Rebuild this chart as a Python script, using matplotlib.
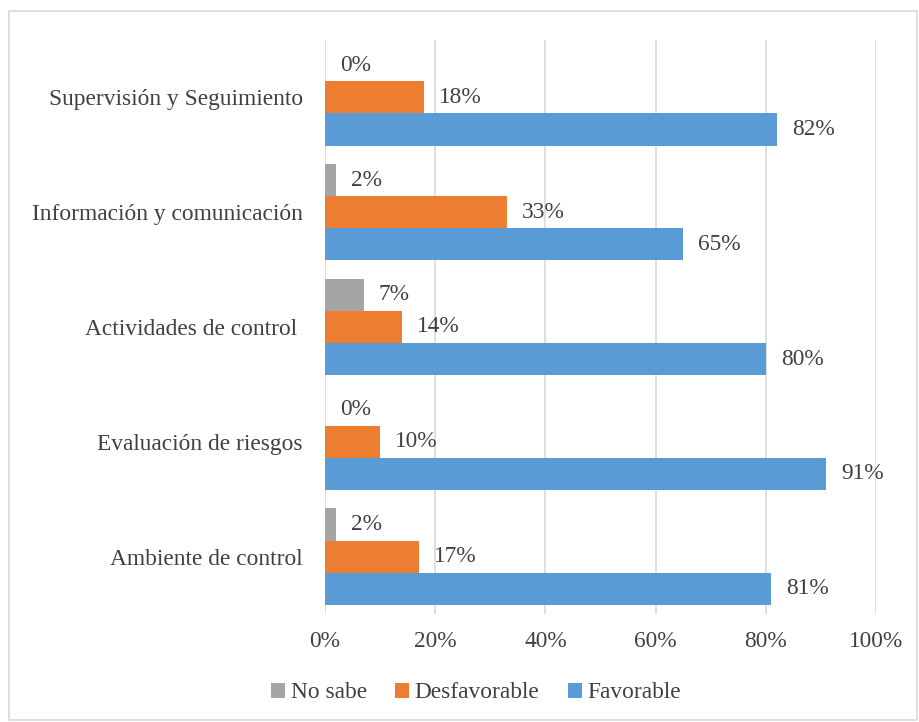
import matplotlib
matplotlib.use("Agg")
import matplotlib.pyplot as plt
import numpy as np

plt.rcParams['font.family'] = ['Liberation Serif', 'DejaVu Serif']

categorias = ["Ambiente de control", "Evaluación de riesgos", "Actividades de control ",
              "Información y comunicación", "Supervisión y Seguimiento"]
favorable = [81, 91, 80, 65, 82]
desfavorable = [17, 10, 14, 33, 18]
no_sabe = [2, 0, 7, 2, 0]

col_fav = '#5b9bd5'
col_des = '#ed7d31'
col_ns = '#a5a5a5'
txt = '#404040'
fs = 16.8

fig = plt.figure(figsize=(9.2, 7.22), dpi=100)
ax = fig.add_axes([325/920, 1-614/722, 551/920, 574/722])

# borde del grafico
fig.patches.append(plt.Rectangle((9/920, 2/722), 908/920, 709/722, transform=fig.transFigure,
                                 fill=False, edgecolor='#d9d9d9', linewidth=1.2))

y = np.arange(len(categorias))
h = 0.28
series = [(favorable, col_fav, 'Favorable', -h), (desfavorable, col_des, 'Desfavorable', 0),
          (no_sabe, col_ns, 'No sabe', h)]
for vals, col, lab, off in series:
    bars = ax.barh(y + off, vals, height=h, color=col, label=lab, zorder=3)
    for b, v in zip(bars, vals):
        ax.annotate(f"{v}%", (b.get_width(), b.get_y() + h/2), xytext=(11, 0),
                    textcoords='offset points', va='center', ha='left',
                    fontsize=fs, color=txt)

ax.set_xlim(0, 100)
ax.set_ylim(-0.5, 4.5)
ax.set_xticks(np.arange(0, 101, 20))
ax.set_xticklabels([f"{t}%" for t in range(0, 101, 20)])
ax.set_yticks(y)
ax.set_yticklabels(categorias)
ax.tick_params(axis='both', length=0, labelsize=fs, labelcolor=txt)
ax.tick_params(axis='x', pad=12)
ax.tick_params(axis='y', pad=16)
ax.grid(axis='x', color='#d9d9d9', linewidth=1.2, zorder=0)
for s in ax.spines.values():
    s.set_visible(False)

handles, labels = ax.get_legend_handles_labels()
leg = fig.legend(handles[::-1], labels[::-1], loc='center', bbox_to_anchor=(476/920, 1-693/722),
                 ncol=3, frameon=False, fontsize=fs, handlelength=0.6, handleheight=0.6,
                 handletextpad=0.25, columnspacing=1.2)
for t in leg.get_texts():
    t.set_color(txt)

fig.savefig("out.png", dpi=100)
